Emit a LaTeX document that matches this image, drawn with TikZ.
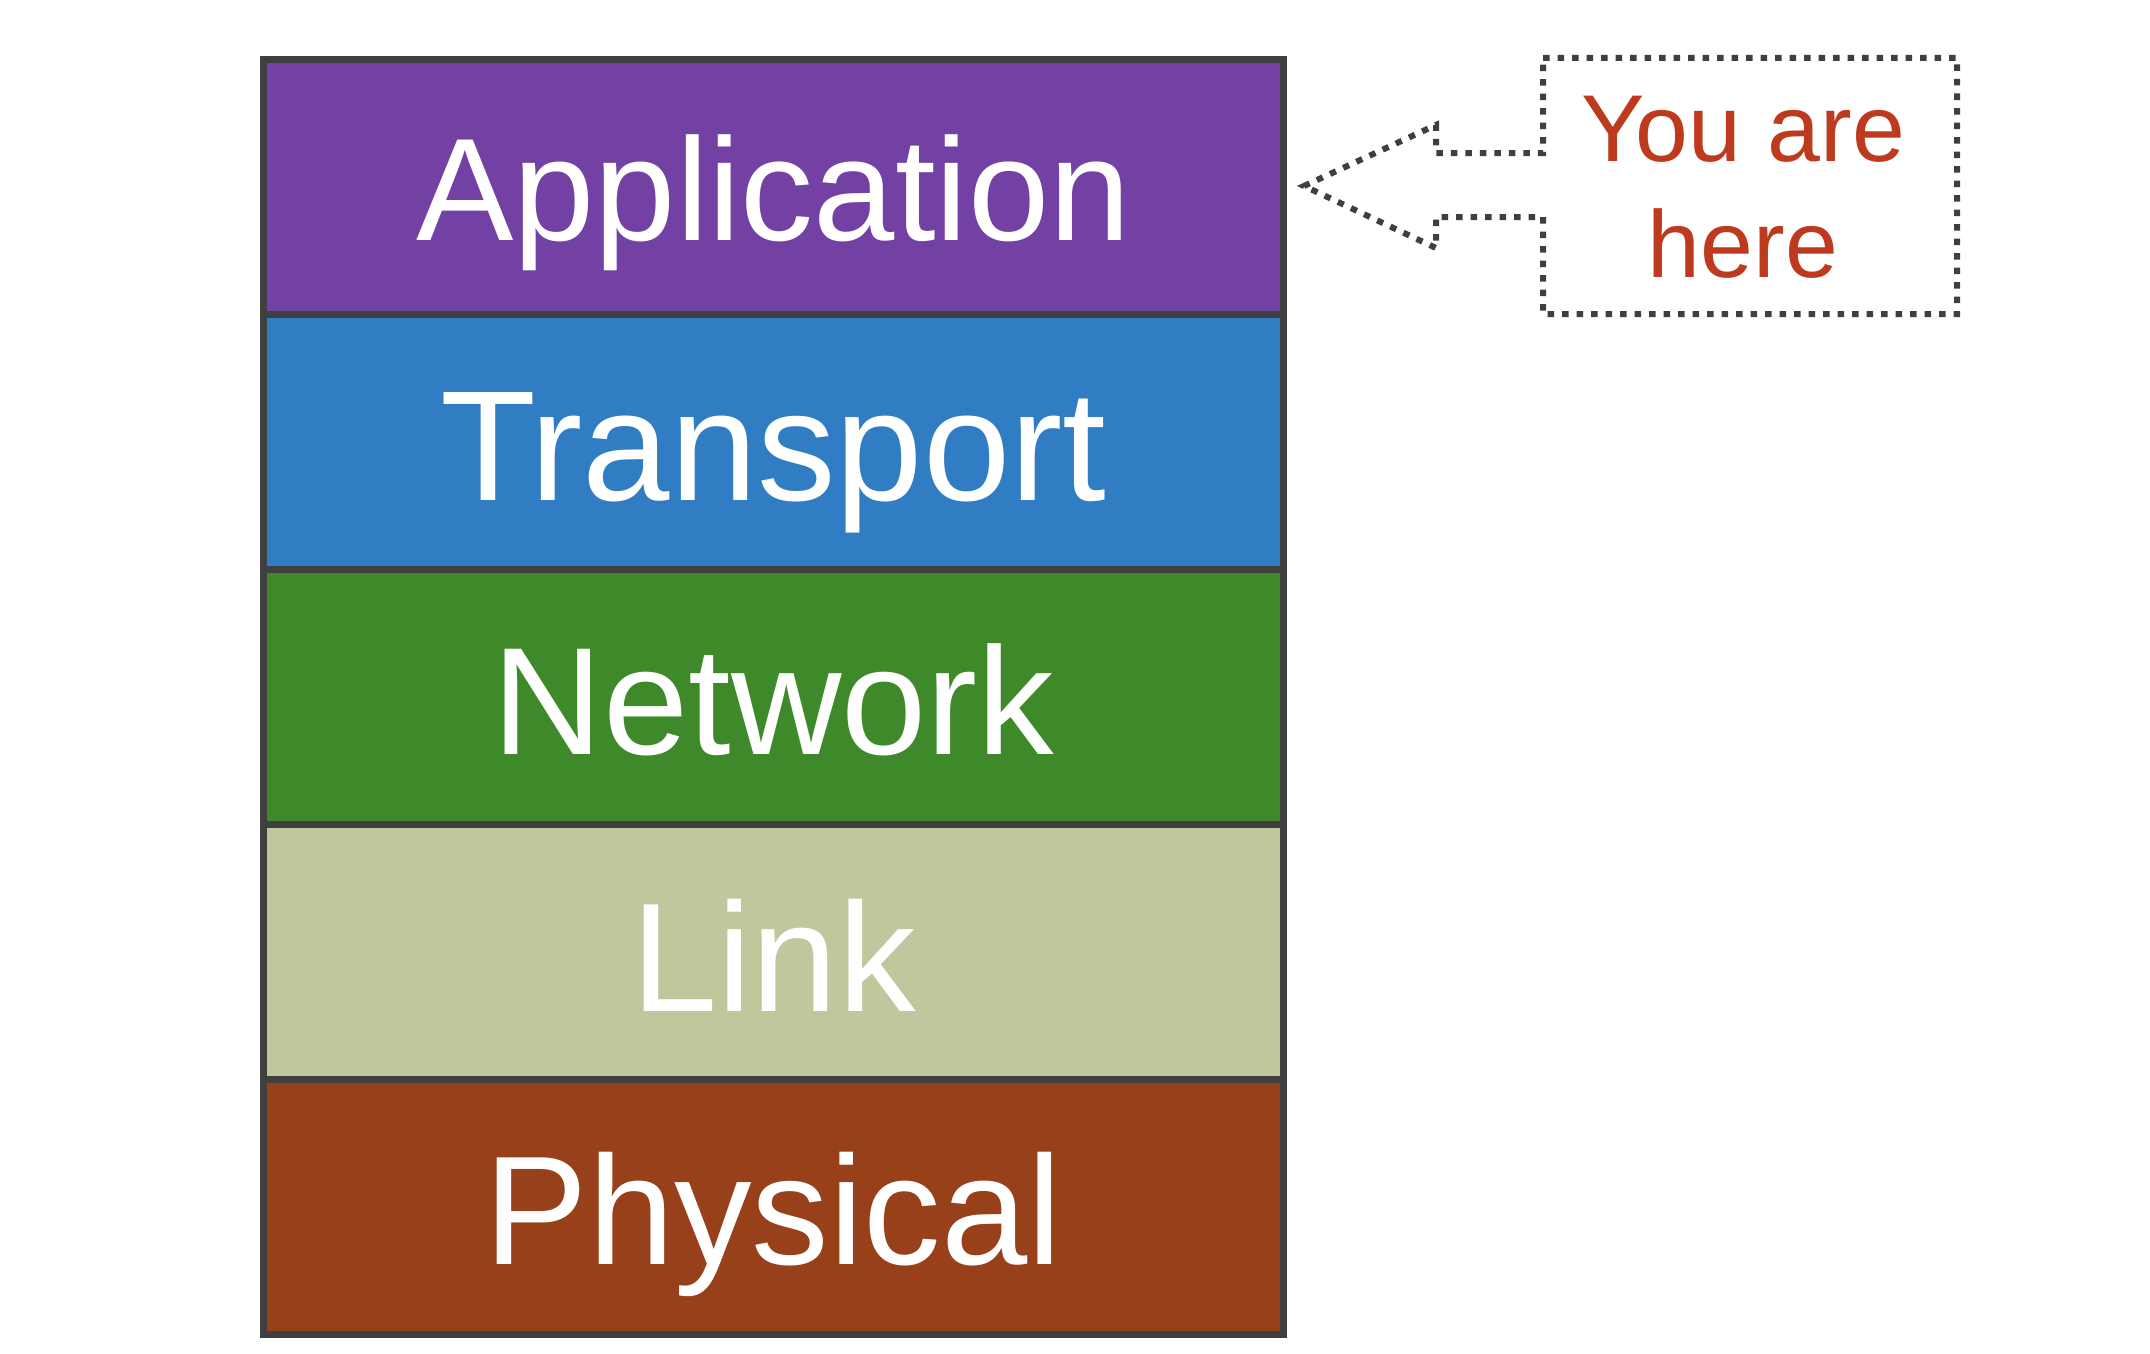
\documentclass[tikz,border=0pt]{standalone}
\usepackage{fontspec}
\setmainfont{Liberation Sans}
\definecolor{edge}{HTML}{3F3F3F}
\definecolor{appc}{HTML}{7341A3}
\definecolor{trc}{HTML}{317DC4}
\definecolor{netc}{HTML}{3E8A2A}
\definecolor{linkc}{HTML}{C1C79C}
\definecolor{phyc}{HTML}{974019}
\definecolor{notec}{HTML}{BE3A1F}
\begin{document}
\begin{tikzpicture}[x=1pt,y=-1pt,
  layer/.style={draw=edge, line width=7pt, rectangle, inner sep=0pt,
    minimum width=1020pt, minimum height=255pt, text=white, text depth=0pt},
  callout/.style={draw=edge, line width=6pt, dash pattern=on 6.5pt off 8pt, line join=miter},
  notetext/.style={text=notec, align=center, font=\fontsize{95}{116}\selectfont, inner sep=0pt}]
\useasboundingbox (0,0) rectangle (2150,1354);
\fill[white] (0,0) rectangle (2150,1354);
\node[layer, fill=appc, font=\fontsize{146}{170}\selectfont, text height=106pt]  (app)  at (773.5,187)  {Application};
\node[layer, fill=trc, font=\fontsize{157}{180}\selectfont, text height=116pt]   (tr)   at (773.5,442)  {Transport};
\node[layer, fill=netc, font=\fontsize{153}{180}\selectfont, text height=114pt]  (net)  at (773.5,697)  {Network};
\node[layer, fill=linkc, font=\fontsize{155}{180}\selectfont, text height=118pt] (link) at (773.5,952)  {Link};
\node[layer, fill=phyc, font=\fontsize{155}{180}\selectfont, text height=114pt]  (phy)  at (773.5,1207) {Physical};
\node[notetext] (note) at (1743,187) {You are\\here};
\coordinate (tip) at (1304,186);
\draw[callout] (1543,58) -- (1957,58) -- (1957,314) -- (1543,314) -- (1543,217)
  -- (1436,217) -- (1436,248) -- (tip) -- (1436,125) -- (1436,153)
  -- (1543,153) -- cycle;
\end{tikzpicture}
\end{document}
